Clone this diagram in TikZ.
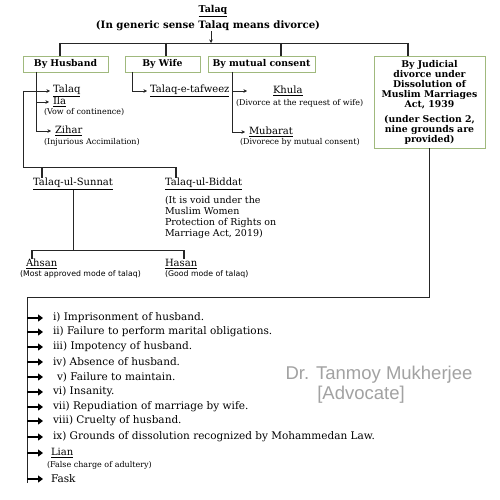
\documentclass[tikz,border=0pt]{standalone}
\usepackage{fontspec}
\setmainfont{DejaVu Serif}
\setsansfont{DejaVu Sans}
\newfontfamily\markfont{Liberation Sans}
\usetikzlibrary{arrows.meta}
\definecolor{boxgreen}{RGB}{160,185,125}
\definecolor{markgray}{RGB}{162,162,162}

\begin{document}
\begin{tikzpicture}[x=1pt, y=-1pt, every node/.style={inner sep=0pt, outer sep=0pt}, >={Stealth[length=3.5pt, width=3.5pt]},
	headbox/.style={draw=boxgreen, line width=0.8pt, font=\bfseries\fontsize{9.3}{10}\selectfont, align=center, minimum height=16pt},
	link/.style={line width=0.9pt, draw=black!85},
	stub/.style={line width=1.8pt, draw=black!85},
	pointer/.style={line width=2.4pt, -{Triangle[length=5pt, width=7pt]}},
	term/.style={anchor=west, font=\fontsize{10}{12}\selectfont},
	gloss/.style={anchor=west, font=\fontsize{8}{9}\selectfont},
	sgloss/.style={anchor=west, font=\sffamily\fontsize{7.8}{9}\selectfont},
	ground/.style={anchor=west, font=\fontsize{10.5}{12}\selectfont},
	watermark/.style={font=\markfont\fontsize{18.5}{20}\selectfont, text=markgray}]
	\fill[white] (0,0) rectangle (500,500);
	\useasboundingbox (0,0) rectangle (500,500);
	\node[font=\bfseries\fontsize{9.5}{10}\selectfont] (talaqhead) at (213,11) {\underline{Talaq}};
	\node[font=\bfseries\fontsize{10.2}{11}\selectfont] (generic) at (208,26) {(In generic sense Talaq means divorce)};
	\node[headbox, minimum width=85pt] (husband) at (65.5,64) {By Husband};
	\node[headbox, minimum width=75pt] (wife) at (162.5,64) {By Wife};
	\node[headbox, minimum width=107pt] (mutual) at (261.5,64) {By mutual consent};
	\node[headbox, minimum width=111pt, minimum height=92pt] (judicial) at (429.5,102) {By Judicial\\divorce under\\Dissolution of\\Muslim Marriages\\Act, 1939\\[5pt](under Section 2,\\nine grounds are\\provided)};
	\node[term] (talaq) at (53,91) {\underline{Talaq}};
	\node[term] (ila) at (53,102) {\underline{Ila}};
	\node[gloss] (vow) at (44,112) {(Vow of continence)};
	\node[term] (zihar) at (55,131) {\underline{Zihar}};
	\node[gloss] (injurious) at (44,142) {(Injurious Accimilation)};
	\node[term] (tafweez) at (150,91) {\underline{Talaq-e-tafweez}};
	\node[term] (khula) at (273,91) {\underline{Khula}};
	\node[gloss] (request) at (236,103) {(Divorce at the request of wife)};
	\node[term] (mubarat) at (249,132) {\underline{Mubarat}};
	\node[gloss] (consent) at (240,142) {(Divorece by mutual consent)};
	\node[term] (sunnat) at (33,184) {\underline{Talaq-ul-Sunnat}};
	\node[term] (biddat) at (165,184) {\underline{Talaq-ul-Biddat}};
	\node[anchor=north west, align=left, font=\fontsize{9.5}{11}\selectfont] (void) at (165,196) {(It is void under the\\Muslim Women\\Protection of Rights on\\Marriage Act, 2019)};
	\node[term] (ahsan) at (26,264) {\underline{Ahsan}};
	\node[sgloss] (approved) at (20,274) {(Most approved mode of talaq)};
	\node[term] (hasan) at (165,264) {\underline{Hasan}};
	\node[sgloss] (good) at (165,274) {(Good mode of talaq)};
	\foreach \n/\x/\y/\t in {g1/53/318/{i) Imprisonment of husband.}, g2/53/332/{ii) Failure to perform marital obligations.}, g3/53/347/{iii) Impotency of husband.}, g4/53/362/{iv) Absence of husband.}, g5/57/377/{v) Failure to maintain.}, g6/53/392/{vi) Insanity.}, g7/53/407/{vii) Repudiation of marriage by wife.}, g8/53/421/{viii) Cruelty of husband.}, g9/53/437/{ix) Grounds of dissolution recognized by Mohammedan Law.}} {\node[ground] (\n) at (\x,\y) {\t};}
	\node[term] (lian) at (51,453) {\underline{Lian}};
	\node[gloss] (falsecharge) at (47,465) {(False charge of adultery)};
	\node[ground] (fask) at (51,479) {Fask};
	\node[watermark] (wmname) at (379,375) {Dr. Tanmoy Mukherjee};
	\node[watermark] (wmrole) at (361,395) {[Advocate]};
	\coordinate (bar) at (211,43);
	\coordinate (barL) at (60,43);
	\coordinate (barR) at (408,43);
	\draw[link, ->] (generic.south -| bar) -- (bar);
	\draw[link] (barL) -- (barR);
	\foreach \b/\x in {husband/60, wife/166, mutual/281, judicial/408} {\draw[stub] (\x,43) -- (\x,43 |- \b.north);}
	\coordinate (hstem) at ([xshift=13pt]husband.south west);
	\draw[link, ->] (hstem) |- ([xshift=-4pt]zihar.west);
	\draw[link, ->] (hstem |- ila.west) -- ([xshift=-4pt]ila.west);
	\coordinate (hloop) at (23,91);
	\coordinate (split) at (23,167);
	\coordinate (splitR) at (176,167);
	\draw[link, ->] (hloop) -- ([xshift=-3pt]talaq.west);
	\draw[link] (hloop) -- (split) -- (splitR);
	\draw[stub] (42,167) -- (42,167 |- sunnat.north);
	\draw[stub] (splitR) -- (splitR |- biddat.north);
	\coordinate (sfork) at (73,250);
	\coordinate (sforkL) at (32,250);
	\coordinate (sforkR) at (184,250);
	\draw[link] (sfork |- sunnat.south) -- (sfork);
	\draw[link] (sforkL) -- (sforkR);
	\draw[stub] (sforkL) -- (sforkL |- ahsan.north);
	\draw[stub] (sforkR) -- (sforkR |- hasan.north);
	\draw[link, ->] ([xshift=7pt]wife.south west) |- ([xshift=-3pt]tafweez.west);
	\coordinate (mstem) at ([xshift=24pt]mutual.south west);
	\draw[link, ->] (mstem) |- ([xshift=-4pt]mubarat.west);
	\draw[link, ->] (mstem |- khula.west) -- ([xshift=-26pt]khula.west);
	\coordinate (gtop) at (27,297);
	\coordinate (gend) at (27,483);
	\draw[link] (judicial.south) |- (gtop) -- (gend);
	\foreach \n in {g1,g2,g3,g4,g5,g6,g7,g8,g9,lian,fask} {\draw[pointer] (gtop |- \n.west) -- (43,0 |- \n.west);}
\end{tikzpicture}
\end{document}
